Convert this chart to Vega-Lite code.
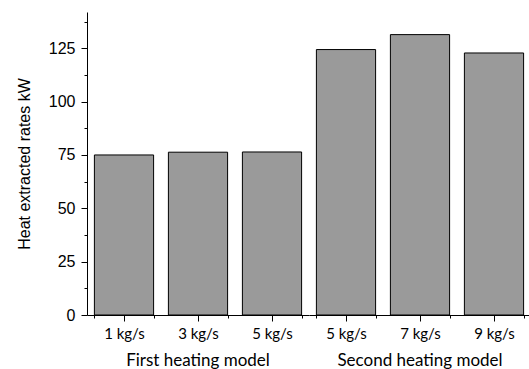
{
 "$schema": "https://vega.github.io/schema/vega-lite/v6.json",
 "padding": {"left": 16, "top": 12, "right": 0, "bottom": 0},
 "background": "white",
 "data": {"values": [
  {"model": "First heating model", "flow": "1 kg/s", "value": 75},
  {"model": "First heating model", "flow": "3 kg/s", "value": 76.3},
  {"model": "First heating model", "flow": "5 kg/s", "value": 76.4},
  {"model": "Second heating model", "flow": "5 kg/s", "value": 124.4},
  {"model": "Second heating model", "flow": "7 kg/s", "value": 131.4},
  {"model": "Second heating model", "flow": "9 kg/s", "value": 122.8}
 ]},
 "facet": {"column": {"field": "model", "type": "nominal", "header": {"labelOrient": "bottom", "title": null, "labelFont": "Lato", "labelFontSize": 17, "labelColor": "black", "labelPadding": 12}}},
 "spacing": 0,
 "resolve": {"scale": {"x": "independent"}},
 "spec": {
  "width": 222,
  "height": 303,
  "layer": [
   {
    "mark": {"type": "bar", "fill": "#9a9a9a", "stroke": "black", "strokeWidth": 1},
    "encoding": {
     "x": {"field": "flow", "type": "nominal", "scale": {"paddingInner": 0.2, "paddingOuter": 0.1},
      "axis": {"title": null, "labelAngle": 0, "tickBand": "extent", "tickSize": 3, "labelPadding": 8, "labelFont": "Lato", "labelFontSize": 15, "labelColor": "black", "domainColor": "black", "tickColor": "black", "orient": "bottom", "grid": false}},
     "y": {"field": "value", "type": "quantitative", "scale": {"domain": [0, 142], "nice": false},
      "axis": {"title": "Heat extracted rates kW", "values": [0, 12.5, 25, 37.5, 50, 62.5, 75, 87.5, 100, 112.5, 125, 137.5],
       "labelExpr": "datum.value % 25 === 0 ? format(datum.value, 'd') : ''",
       "tickSize": {"condition": {"test": "datum.value % 25 === 0", "value": 6}, "value": 3},
       "labelFont": "Liberation Sans", "labelFontSize": 16, "labelColor": "black", "labelPadding": 6,
       "domainColor": "black", "tickColor": "black", "grid": false}}
    }
   },
   {
    "mark": {"type": "bar", "opacity": 0},
    "encoding": {
     "x": {"field": "flow", "type": "nominal", "axis": {"title": null, "labels": false, "domain": false, "tickSize": 6, "tickColor": "black", "orient": "bottom", "grid": false}}
    }
   }
  ],
  "resolve": {"axis": {"x": "independent"}}
 },
 "config": {
  "view": {"stroke": null},
  "axisY": {"titleFont": "Liberation Sans", "titleFontSize": 16, "titleFontWeight": "normal", "titleColor": "black", "titlePadding": 16},
  "header": {"titleFontSize": 16, "titleFont": "Liberation Sans", "titleFontWeight": "normal"}
 }
}
